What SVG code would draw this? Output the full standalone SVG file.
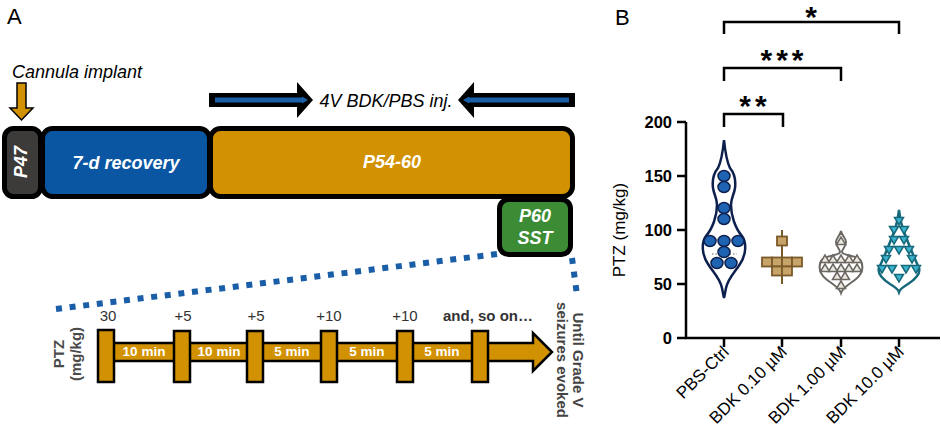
<svg xmlns="http://www.w3.org/2000/svg" xmlns:xlink="http://www.w3.org/1999/xlink" width="941" height="431" viewBox="0 0 941 431">
<style>
text{font-family:"Liberation Sans",Arial,sans-serif}
.lbl{font-size:22px;fill:#000}
.box{stroke:#000;stroke-width:5}
.wbi{font-weight:bold;font-style:italic;fill:#fff;font-size:18px;text-anchor:middle}
.blk{stroke:#000;stroke-width:2.5;fill:#d29100}
.num{font-size:15px;fill:#333;text-anchor:middle}
.min{font-size:13.5px;font-weight:bold;fill:#fff;text-anchor:middle}
.gray{fill:#4a4a4a;font-size:15px;font-weight:bold;text-anchor:middle}
.dots{stroke:#1b5ea8;stroke-width:6;stroke-dasharray:6 7.7;fill:none}
.ax{stroke:#000;stroke-width:2.5;fill:none}
.tick{font-size:16.5px;font-weight:bold;text-anchor:end}
.xl{font-size:17px;text-anchor:end}
.star{font-size:30px;font-weight:bold;text-anchor:middle;letter-spacing:4px}
.c1{fill:#1f63b3;stroke:#0d1f4d;stroke-width:1.5}
.sq{fill:#c9a468;stroke:#7a5a2a;stroke-width:1.8}
.tu{fill:#ece8df;stroke:#6b6762;stroke-width:1.5}
.td{fill:#3bb5cf;stroke:#16697a;stroke-width:1.5}
</style>
<defs>
<path id="triU" d="M-4.5,3.5 L0,-4 L4.5,3.5 Z"/>
<path id="triD" d="M-4.5,-3.5 L4.5,-3.5 L0,4 Z"/>
<rect id="sqr" x="-5" y="-4.5" width="10" height="9"/>
</defs>

<!-- Panel A -->
<text class="lbl" x="7" y="24">A</text>

<g id="cannula">
<text x="12" y="78" font-size="18" font-style="italic">Cannula implant</text>
<path d="M17,83 H26 V108 H33 L21.5,120 L10,108 H17 Z" fill="#d29100" stroke="#000" stroke-width="1.5"/>
</g>

<g id="injection">
<path d="M209,93 H297 V82 L313,100 L297,118 V107 H209 Z" fill="#000"/>
<path d="M215,100 H303" stroke="#1a5ea6" stroke-width="5"/>
<path d="M302,96.5 L308,100 L302,103.5 Z" fill="#1a5ea6"/>
<path d="M575,93 H474 V82 L458,100 L474,118 V107 H575 Z" fill="#000"/>
<path d="M569,100 H468" stroke="#1a5ea6" stroke-width="5"/>
<path d="M469,96.5 L463,100 L469,103.5 Z" fill="#1a5ea6"/>
<text x="386" y="107" font-size="18" font-style="italic" text-anchor="middle">4V BDK/PBS inj.</text>
</g>

<g id="p47">
<rect class="box" x="4.5" y="128.5" width="36" height="68" rx="9" fill="#3d3a3a"/>
<text class="wbi" font-size="16" transform="translate(27,162) rotate(-90)">P47</text>
</g>
<g id="recovery">
<rect class="box" x="42.5" y="128.5" width="167" height="68" rx="10" fill="#0b56a3"/>
<text class="wbi" x="126" y="169">7-d recovery</text>
</g>
<g id="p54">
<rect class="box" x="210.5" y="128.5" width="362" height="68" rx="10" fill="#d29100"/>
<text class="wbi" x="392" y="168">P54-60</text>
</g>
<g id="p60">
<rect class="box" x="499.5" y="199.5" width="71" height="55" rx="9" fill="#3b8c35"/>
<text class="wbi" x="535" y="222">P60</text>
<text class="wbi" x="535" y="244">SST</text>
</g>

<g id="zoom-lines">
<path class="dots" d="M56,309 L497,254"/>
<path class="dots" d="M572,258 L577,295"/>
</g>

<g id="timeline">
<text class="gray" transform="translate(64,354) rotate(-90)">PTZ</text>
<text class="gray" transform="translate(81,354) rotate(-90)">(mg/kg)</text>
<path class="blk" d="M105,343 H533 V333 L552,352 L533,371 V361 H105 Z"/>
<rect class="blk" x="98" y="330" width="16" height="52"/>
<rect class="blk" x="174" y="331" width="16" height="51"/>
<rect class="blk" x="247" y="331" width="16" height="51"/>
<rect class="blk" x="321" y="331" width="16" height="51"/>
<rect class="blk" x="397" y="331" width="16" height="51"/>
<rect class="blk" x="472" y="331" width="16" height="51"/>
<text class="num" x="108" y="321">30</text>
<text class="num" x="183" y="321">+5</text>
<text class="num" x="256" y="321">+5</text>
<text class="num" x="329" y="321">+10</text>
<text class="num" x="405" y="321">+10</text>
<text class="num" x="488" y="321" font-weight="bold" font-size="14">and, so on…</text>
<text class="min" x="144" y="356">10 min</text>
<text class="min" x="219" y="356">10 min</text>
<text class="min" x="292" y="356">5 min</text>
<text class="min" x="367" y="356">5 min</text>
<text class="min" x="442" y="356">5 min</text>
<text font-size="15" font-weight="bold" fill="#444" text-anchor="middle" transform="translate(573,360) rotate(90)">Until Grade V</text>
<text font-size="15" font-weight="bold" fill="#444" text-anchor="middle" transform="translate(557,360) rotate(90)">seizures evoked</text>
</g>

<!-- Panel B -->
<text class="lbl" x="615" y="25">B</text>

<g id="axes">
<path class="ax" d="M686,122 V338 H940"/>
<path class="ax" d="M677,122 H686 M677,176 H686 M677,230 H686 M677,284 H686 M677,338 H686"/>
<path class="ax" d="M724,338 V347 M782,338 V347 M841,338 V347 M899,338 V347"/>
<text class="tick" x="672" y="128">200</text>
<text class="tick" x="672" y="182">150</text>
<text class="tick" x="672" y="236">100</text>
<text class="tick" x="672" y="290">50</text>
<text class="tick" x="672" y="344">0</text>
<text font-size="17" text-anchor="middle" transform="translate(625,230) rotate(-90)">PTZ (mg/kg)</text>
<text class="xl" transform="translate(730,353) rotate(-45)">PBS-Ctrl</text>
<text class="xl" transform="translate(788,353) rotate(-45)">BDK 0.10 µM</text>
<text class="xl" transform="translate(847,353) rotate(-45)">BDK 1.00 µM</text>
<text class="xl" transform="translate(905,353) rotate(-45)">BDK 10.0 µM</text>
</g>

<g id="significance">
<path class="ax" d="M724,127 V114 H783 V127"/>
<path class="ax" d="M724,81 V68 H841 V81"/>
<path class="ax" d="M724,34 V22 H899 V34"/>
<text class="star" x="755" y="116">**</text>
<text class="star" x="784" y="70">***</text>
<text class="star" x="813" y="27">*</text>
</g>

<g id="violin-pbs">
<path d="M724,140 C725,150 726,160 730,168 C735,174 736,180 735,188 C734,195 731,198 731,205 C731,215 735,228 742,236 C747,243 746,255 740,264 C735,272 728,278 726,288 C725,293 724.5,296 724,298 C723.5,296 723,293 722,288 C720,278 713,272 708,264 C702,255 701,243 706,236 C713,228 717,215 717,205 C717,198 714,195 713,188 C712,180 713,174 718,168 C722,160 723,150 724,140 Z" fill="#fff" stroke="#0d1f4d" stroke-width="2.5"/>
<path d="M712,254 H737" stroke="#666" stroke-width="1" stroke-dasharray="1.5 2"/>
<ellipse class="c1" cx="724" cy="176" rx="6" ry="5.5"/>
<ellipse class="c1" cx="724" cy="187" rx="6" ry="5.5"/>
<ellipse class="c1" cx="724" cy="208" rx="6" ry="5.5"/>
<ellipse class="c1" cx="724" cy="219" rx="6" ry="5.5"/>
<ellipse class="c1" cx="710" cy="241" rx="6" ry="5.5"/>
<ellipse class="c1" cx="724" cy="241" rx="6" ry="5.5"/>
<ellipse class="c1" cx="738" cy="241" rx="6" ry="5.5"/>
<ellipse class="c1" cx="724" cy="252" rx="6" ry="5.5"/>
<ellipse class="c1" cx="717" cy="263" rx="6" ry="5.5"/>
<ellipse class="c1" cx="731" cy="263" rx="6" ry="5.5"/>
</g>

<g id="violin-bdk010">
<path d="M782,230 V284" stroke="#7a5a2a" stroke-width="2"/>
<use href="#sqr" class="sq" x="782" y="241"/>
<use href="#sqr" class="sq" x="767" y="262"/>
<use href="#sqr" class="sq" x="777" y="262"/>
<use href="#sqr" class="sq" x="787" y="262"/>
<use href="#sqr" class="sq" x="797" y="262"/>
<use href="#sqr" class="sq" x="777" y="271"/>
<use href="#sqr" class="sq" x="787" y="271"/>
</g>

<g id="violin-bdk100">
<path d="M841,231 C842,236 846,238 846,242 C846,247 842,249 842,252 C842,256 858,255 861,261 C864,268 862,274 856,279 C850,284 843,287 841,293 C839,287 832,284 826,279 C820,274 818,268 821,261 C824,255 840,256 840,252 C840,249 836,247 836,242 C836,238 840,236 841,231 Z" fill="#fff" stroke="#6b6762" stroke-width="2"/>
<use href="#triU" class="tu" x="841" y="241"/>
<use href="#triU" class="tu" x="825" y="259"/>
<use href="#triU" class="tu" x="833" y="259"/>
<use href="#triU" class="tu" x="841" y="259"/>
<use href="#triU" class="tu" x="849" y="259"/>
<use href="#triU" class="tu" x="857" y="259"/>
<use href="#triU" class="tu" x="825" y="268"/>
<use href="#triU" class="tu" x="833" y="268"/>
<use href="#triU" class="tu" x="841" y="268"/>
<use href="#triU" class="tu" x="849" y="268"/>
<use href="#triU" class="tu" x="857" y="268"/>
<use href="#triU" class="tu" x="837" y="276"/>
<use href="#triU" class="tu" x="845" y="276"/>
<use href="#triU" class="tu" x="841" y="285"/>
</g>

<g id="violin-bdk1000">
<path d="M899,210 C900,218 901,224 904,232 C909,245 913,255 919,268 C921,274 914,280 908,284 C903,287 900,289 899,292 C898,289 895,287 890,284 C884,280 877,274 879,268 C885,255 889,245 894,232 C897,224 898,218 899,210 Z" fill="#fff" stroke="#16697a" stroke-width="2.5"/>
<use href="#triD" class="td" x="899" y="221"/>
<use href="#triD" class="td" x="894" y="230"/>
<use href="#triD" class="td" x="904" y="230"/>
<use href="#triD" class="td" x="894" y="240"/>
<use href="#triD" class="td" x="904" y="240"/>
<use href="#triD" class="td" x="889" y="250"/>
<use href="#triD" class="td" x="899" y="250"/>
<use href="#triD" class="td" x="909" y="250"/>
<use href="#triD" class="td" x="886" y="259"/>
<use href="#triD" class="td" x="912" y="259"/>
<use href="#triD" class="td" x="882" y="269"/>
<use href="#triD" class="td" x="892" y="269"/>
<use href="#triD" class="td" x="906" y="269"/>
<use href="#triD" class="td" x="916" y="269"/>
<use href="#triD" class="td" x="899" y="278"/>
</g>
</svg>
